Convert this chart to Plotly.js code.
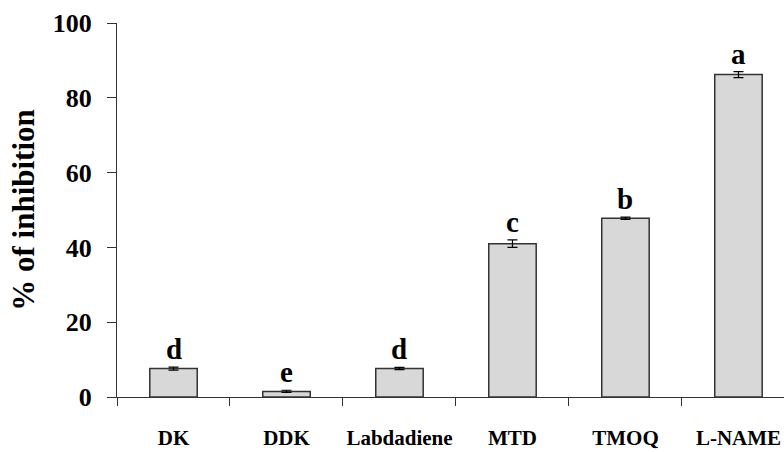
<!DOCTYPE html>
<html>
<head>
<meta charset="utf-8">
<script src="https://cdn.plot.ly/plotly-3.0.1.min.js"></script>
<style>html,body{margin:0;padding:0;background:#fff;}#chart{width:784px;height:452px;}</style>
</head>
<body>
<div id="chart"></div>
<script>
var categories = ["DK", "DDK", "Labdadiene", "MTD", "TMOQ", "L-NAME"];
var inhibition = [7.6, 1.5, 7.6, 41.0, 47.8, 86.2];
var errors = [0.4, 0.3, 0.3, 1.0, 0.3, 0.8];
var letters = ["d", "e", "d", "c", "b", "a"];

var serif = "Liberation Serif, Times New Roman, serif";

var trace = {
  type: "bar",
  x: categories,
  y: inhibition,
  width: 0.42,
  marker: {
    color: "#e2e2e2",
    pattern: {shape: ".", bgcolor: "#eeeeee", fgcolor: "#bcbcbc", size: 2, solidity: 0.5},
    line: {color: "#333333", width: 1.5}
  },
  error_y: {type: "data", array: errors, visible: true, color: "#000000", thickness: 1.2, width: 5},
  hoverinfo: "none"
};

var annotations = categories.map(function (c, i) {
  return {
    x: c, y: inhibition[i] + errors[i], xref: "x", yref: "y",
    text: "<b>" + letters[i] + "</b>", showarrow: false,
    yanchor: "bottom", yshift: 0,
    font: {family: serif, size: 29, color: "#000"}
  };
});

var layout = {
  width: 784, height: 452,
  margin: {l: 117, r: 0, t: 23, b: 55},
  paper_bgcolor: "#ffffff", plot_bgcolor: "#ffffff",
  showlegend: false,
  font: {family: serif, color: "#000"},
  xaxis: {
    type: "category",
    range: [-0.5, 5.403],
    tickson: "boundaries",
    tickangle: 0,
    ticks: "outside", ticklen: 8, tickcolor: "#333", tickwidth: 1,
    showline: true, linecolor: "#333", linewidth: 1,
    showgrid: false, zeroline: false,
    tickfont: {family: serif, size: 21, color: "#000", weight: "bold"},
    ticklabelstandoff: 22
  },
  yaxis: {
    range: [0, 100],
    tickvals: [0, 20, 40, 60, 80, 100],
    ticks: "outside", ticklen: 9, tickcolor: "#333", tickwidth: 1,
    showline: true, linecolor: "#333", linewidth: 1,
    showgrid: false, zeroline: false,
    tickfont: {family: serif, size: 26, color: "#000", weight: "bold"},
    ticklabelstandoff: 10,
    title: {text: "<b>% of inhibition</b>", font: {family: serif, size: 31, color: "#000"}, standoff: 8}
  },
  annotations: annotations
};

Plotly.newPlot("chart", [trace], layout, {displayModeBar: false, staticPlot: true});
</script>
</body>
</html>
